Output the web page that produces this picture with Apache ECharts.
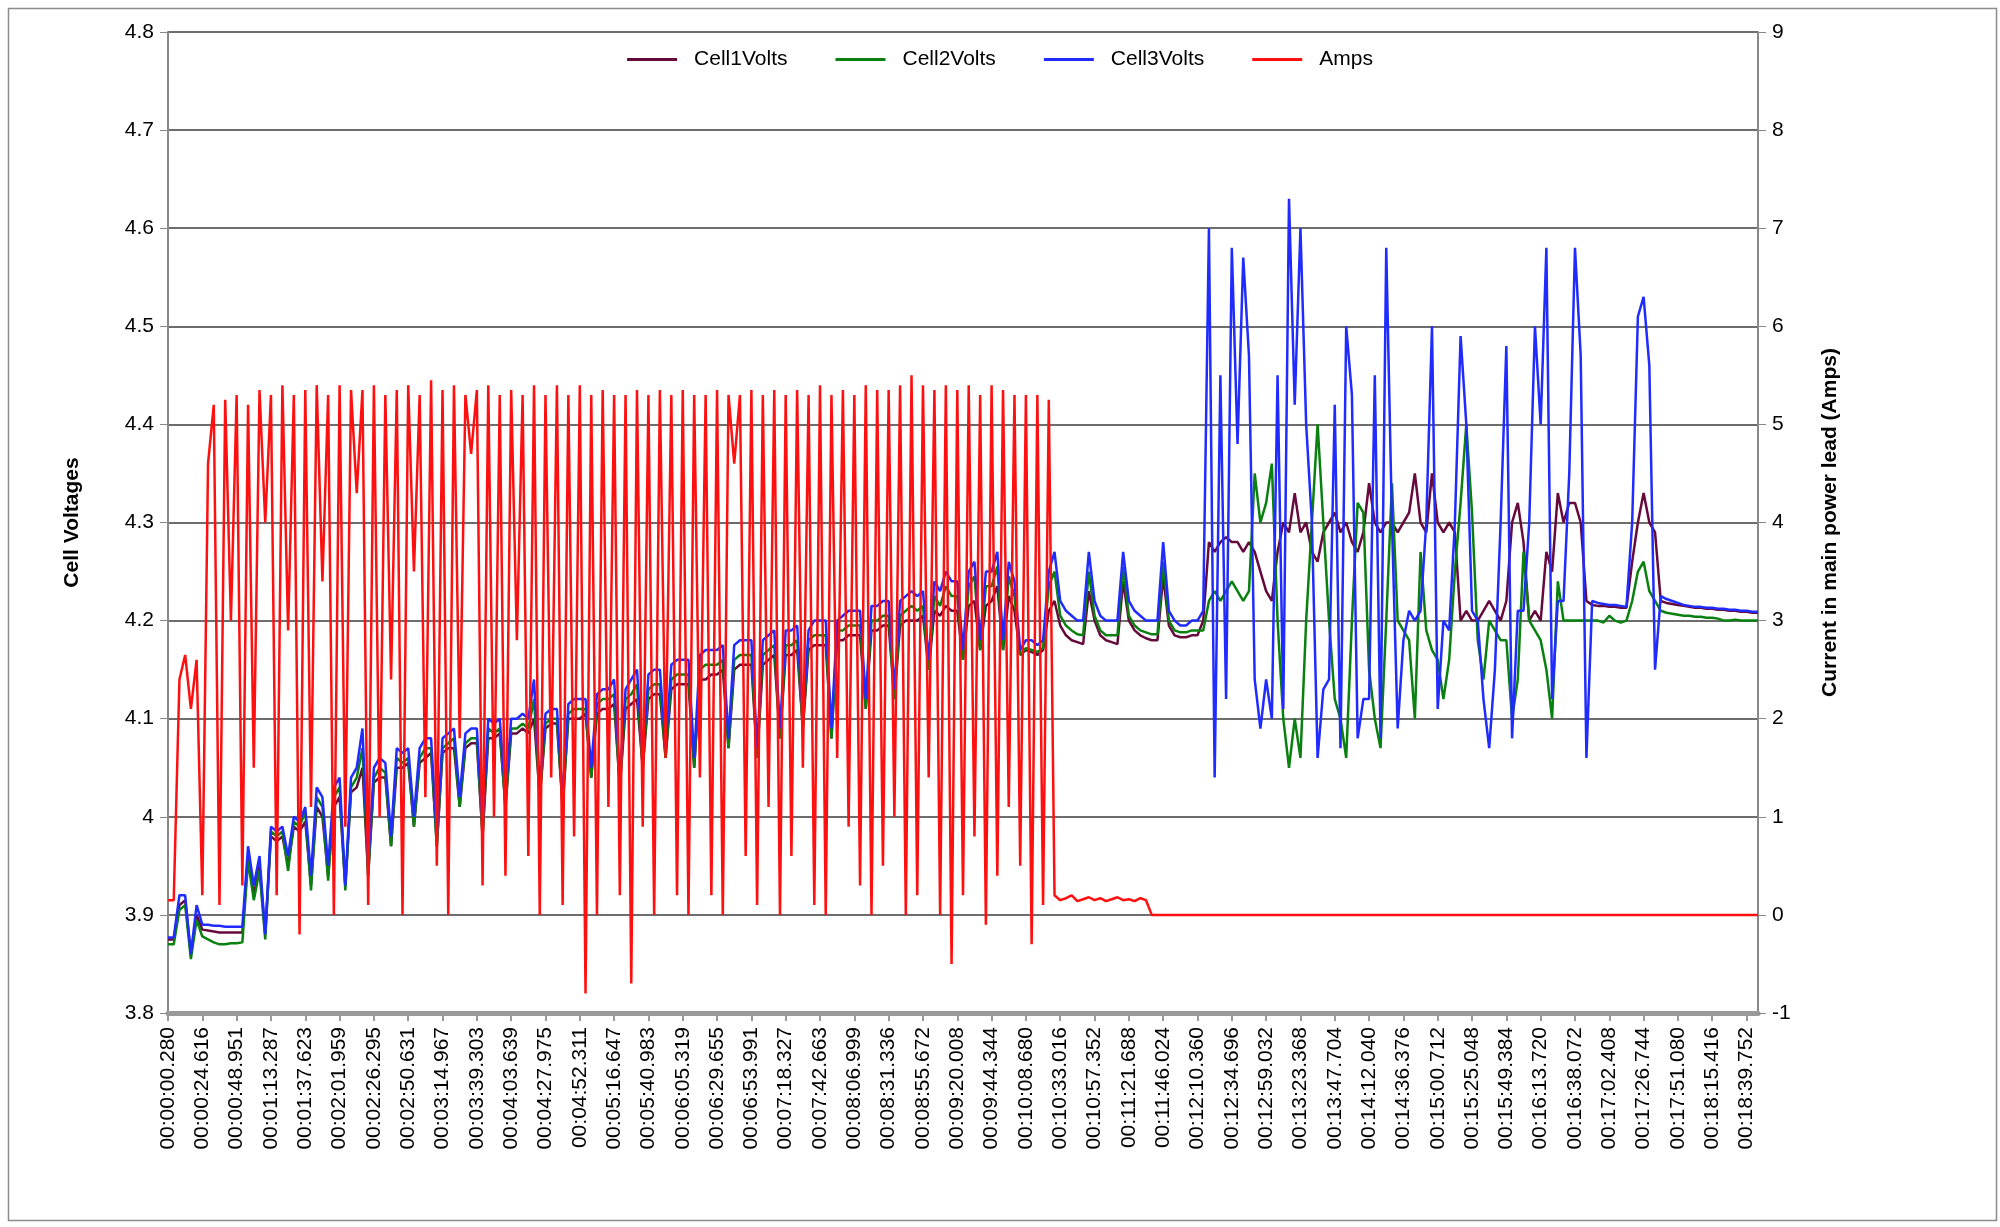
<!DOCTYPE html>
<html>
<head>
<meta charset="utf-8">
<script src="https://cdn.jsdelivr.net/npm/echarts@6/dist/echarts.min.js"></script>
<style>
  html, body { margin: 0; padding: 0; background: #fff; }
  #chart { width: 2000px; height: 1227px; }
</style>
</head>
<body>
<div id="chart"></div>
<script>
// tick labels, one every 6 samples
var tickLabels = ['00:00:00.280','00:00:24.616','00:00:48.951','00:01:13.287','00:01:37.623','00:02:01.959',
  '00:02:26.295','00:02:50.631','00:03:14.967','00:03:39.303','00:04:03.639','00:04:27.975','00:04:52.311',
  '00:05:16.647','00:05:40.983','00:06:05.319','00:06:29.655','00:06:53.991','00:07:18.327','00:07:42.663',
  '00:08:06.999','00:08:31.336','00:08:55.672','00:09:20.008','00:09:44.344','00:10:08.680','00:10:33.016',
  '00:10:57.352','00:11:21.688','00:11:46.024','00:12:10.360','00:12:34.696','00:12:59.032','00:13:23.368',
  '00:13:47.704','00:14:12.040','00:14:36.376','00:15:00.712','00:15:25.048','00:15:49.384','00:16:13.720',
  '00:16:38.072','00:17:02.408','00:17:26.744','00:17:51.080','00:18:15.416','00:18:39.752'];
var perTick = 6;

var cell1Volts = [
  3.875,3.875,3.91,3.915,3.86,3.9,
  3.885,3.884,3.883,3.882,3.882,3.882,
  3.882,3.882,3.96,3.92,3.95,3.88,
  3.98,3.975,3.98,3.95,3.99,3.985,
  3.995,3.93,4.01,4.0,3.94,4.01,
  4.02,3.93,4.025,4.03,4.05,3.94,
  4.035,4.04,4.04,3.97,4.05,4.05,
  4.055,3.99,4.055,4.06,4.065,3.97,
  4.065,4.07,4.07,4.01,4.07,4.075,
  4.075,3.98,4.08,4.08,4.085,4.01,
  4.085,4.085,4.09,4.085,4.1,4.02,
  4.09,4.095,4.095,4.01,4.1,4.1,
  4.1,4.105,4.04,4.105,4.11,4.11,
  4.115,4.03,4.11,4.115,4.12,4.05,
  4.12,4.125,4.125,4.06,4.13,4.135,
  4.135,4.135,4.05,4.14,4.14,4.145,
  4.145,4.15,4.07,4.15,4.155,4.155,
  4.155,4.06,4.155,4.16,4.165,4.08,
  4.165,4.165,4.17,4.09,4.17,4.175,
  4.175,4.175,4.08,4.18,4.18,4.185,
  4.185,4.185,4.11,4.19,4.19,4.195,
  4.195,4.12,4.195,4.2,4.2,4.2,
  4.205,4.15,4.21,4.205,4.215,4.21,
  4.21,4.16,4.215,4.22,4.17,4.215,
  4.22,4.235,4.17,4.225,4.21,4.165,
  4.17,4.168,4.165,4.17,4.21,4.22,
  4.195,4.185,4.18,4.178,4.176,4.23,
  4.2,4.185,4.18,4.178,4.176,4.24,
  4.2,4.19,4.185,4.182,4.18,4.18,
  4.245,4.195,4.185,4.183,4.183,4.185,
  4.185,4.2,4.28,4.27,4.28,4.285,
  4.28,4.28,4.27,4.28,4.27,4.25,
  4.23,4.22,4.27,4.3,4.29,4.33,
  4.29,4.3,4.27,4.26,4.29,4.3,
  4.31,4.29,4.3,4.28,4.27,4.29,
  4.34,4.3,4.29,4.3,4.3,4.29,
  4.3,4.31,4.35,4.3,4.29,4.35,
  4.3,4.29,4.3,4.29,4.2,4.21,
  4.2,4.2,4.21,4.22,4.21,4.2,
  4.22,4.3,4.32,4.28,4.2,4.21,
  4.2,4.27,4.25,4.33,4.3,4.32,
  4.32,4.3,4.22,4.216,4.215,4.215,
  4.214,4.214,4.213,4.213,4.26,4.3,
  4.33,4.3,4.29,4.22,4.218,4.217,
  4.216,4.215,4.214,4.213,4.213,4.212,
  4.212,4.211,4.211,4.21,4.21,4.209,
  4.209,4.208,4.208];

var cell2Volts = [
  3.87,3.87,3.905,3.91,3.855,3.895,
  3.878,3.875,3.872,3.87,3.87,3.871,
  3.871,3.872,3.955,3.915,3.945,3.875,
  3.985,3.98,3.985,3.945,3.995,3.99,
  4.005,3.925,4.02,4.01,3.935,4.02,
  4.03,3.925,4.03,4.04,4.07,3.94,
  4.04,4.05,4.045,3.97,4.06,4.055,
  4.06,3.99,4.06,4.07,4.07,3.97,
  4.07,4.075,4.08,4.01,4.075,4.08,
  4.08,3.98,4.09,4.085,4.09,4.01,
  4.09,4.09,4.095,4.09,4.12,4.02,
  4.095,4.1,4.1,4.01,4.105,4.11,
  4.11,4.11,4.04,4.115,4.12,4.12,
  4.125,4.03,4.12,4.125,4.135,4.05,
  4.13,4.135,4.135,4.06,4.14,4.145,
  4.145,4.145,4.05,4.15,4.155,4.155,
  4.155,4.16,4.07,4.16,4.165,4.165,
  4.165,4.06,4.165,4.17,4.175,4.08,
  4.175,4.175,4.18,4.09,4.18,4.185,
  4.185,4.185,4.08,4.19,4.19,4.195,
  4.195,4.195,4.11,4.2,4.2,4.205,
  4.205,4.12,4.205,4.21,4.215,4.21,
  4.215,4.15,4.225,4.215,4.235,4.225,
  4.225,4.16,4.235,4.245,4.17,4.235,
  4.235,4.255,4.17,4.245,4.225,4.165,
  4.172,4.17,4.168,4.172,4.235,4.25,
  4.205,4.195,4.19,4.186,4.185,4.25,
  4.205,4.19,4.185,4.185,4.185,4.255,
  4.205,4.195,4.19,4.188,4.186,4.186,
  4.26,4.2,4.19,4.188,4.188,4.19,
  4.19,4.19,4.22,4.23,4.22,4.23,
  4.24,4.23,4.22,4.23,4.35,4.3,
  4.32,4.36,4.2,4.1,4.05,4.1,
  4.06,4.2,4.3,4.4,4.3,4.2,
  4.12,4.1,4.06,4.2,4.32,4.31,
  4.15,4.1,4.07,4.2,4.34,4.2,
  4.19,4.18,4.1,4.27,4.19,4.17,
  4.16,4.12,4.16,4.25,4.32,4.4,
  4.31,4.18,4.14,4.2,4.19,4.18,
  4.18,4.1,4.14,4.27,4.2,4.19,
  4.18,4.15,4.1,4.24,4.2,4.2,
  4.2,4.2,4.2,4.2,4.2,4.198,
  4.205,4.2,4.198,4.2,4.22,4.25,
  4.26,4.23,4.22,4.21,4.208,4.207,
  4.206,4.205,4.205,4.204,4.204,4.203,
  4.203,4.202,4.2,4.2,4.201,4.2,
  4.2,4.2,4.2];

var cell3Volts = [
  3.877,3.877,3.92,3.92,3.86,3.91,
  3.89,3.89,3.889,3.889,3.888,3.888,
  3.888,3.888,3.97,3.93,3.96,3.88,
  3.99,3.985,3.99,3.96,4.0,3.995,
  4.01,3.94,4.03,4.02,3.95,4.03,
  4.04,3.93,4.04,4.05,4.09,3.95,
  4.05,4.06,4.055,3.98,4.07,4.065,
  4.07,4.0,4.07,4.08,4.08,3.98,
  4.08,4.085,4.09,4.02,4.085,4.09,
  4.09,3.99,4.1,4.095,4.1,4.02,
  4.1,4.1,4.105,4.1,4.14,4.03,
  4.105,4.11,4.11,4.02,4.115,4.12,
  4.12,4.12,4.05,4.125,4.13,4.13,
  4.14,4.04,4.13,4.14,4.15,4.06,
  4.145,4.15,4.15,4.07,4.155,4.16,
  4.16,4.16,4.06,4.165,4.17,4.17,
  4.17,4.175,4.08,4.175,4.18,4.18,
  4.18,4.07,4.18,4.185,4.19,4.09,
  4.19,4.19,4.195,4.1,4.19,4.2,
  4.2,4.2,4.09,4.2,4.205,4.21,
  4.21,4.21,4.12,4.215,4.215,4.22,
  4.22,4.13,4.22,4.225,4.23,4.225,
  4.23,4.16,4.24,4.23,4.25,4.24,
  4.24,4.17,4.25,4.26,4.18,4.25,
  4.25,4.27,4.18,4.26,4.24,4.17,
  4.18,4.18,4.175,4.18,4.25,4.27,
  4.22,4.21,4.205,4.2,4.2,4.27,
  4.22,4.205,4.2,4.2,4.2,4.27,
  4.22,4.21,4.205,4.2,4.2,4.2,
  4.28,4.21,4.2,4.195,4.195,4.2,
  4.2,4.21,4.6,4.04,4.45,4.12,
  4.58,4.38,4.57,4.47,4.14,4.09,
  4.14,4.1,4.45,4.11,4.63,4.42,
  4.6,4.4,4.3,4.06,4.13,4.14,
  4.42,4.07,4.5,4.43,4.08,4.12,
  4.12,4.45,4.08,4.58,4.3,4.09,
  4.18,4.21,4.2,4.21,4.3,4.5,
  4.11,4.2,4.19,4.3,4.49,4.4,
  4.21,4.2,4.12,4.07,4.15,4.3,
  4.48,4.08,4.21,4.21,4.3,4.5,
  4.4,4.58,4.12,4.22,4.22,4.35,
  4.58,4.47,4.06,4.22,4.218,4.217,
  4.216,4.216,4.215,4.214,4.3,4.51,
  4.53,4.46,4.15,4.225,4.222,4.22,
  4.218,4.216,4.215,4.214,4.214,4.213,
  4.213,4.212,4.212,4.211,4.211,4.21,
  4.21,4.209,4.209];

var amps = [
  0.15,0.15,2.4,2.65,2.1,2.6,
  0.2,4.6,5.2,0.1,5.25,3.0,
  5.3,0.3,5.2,1.5,5.35,4.0,
  5.3,0.2,5.4,2.9,5.3,-0.2,
  5.35,1.1,5.4,3.4,5.3,0.0,
  5.4,0.9,5.35,4.3,5.35,0.1,
  5.4,1.0,5.3,2.4,5.35,0.0,
  5.4,3.5,5.3,1.2,5.45,0.5,
  5.35,0.0,5.4,1.8,5.3,4.7,
  5.35,0.3,5.4,1.0,5.3,0.4,
  5.35,2.8,5.3,0.6,5.4,0.0,
  5.3,1.4,5.4,0.1,5.3,0.8,
  5.4,-0.8,5.3,0.0,5.35,1.1,
  5.3,0.2,5.3,-0.7,5.35,0.9,
  5.3,0.0,5.35,1.6,5.3,0.2,
  5.35,0.0,5.3,1.4,5.3,0.2,
  5.35,0.0,5.3,4.6,5.3,0.6,
  5.35,0.1,5.3,1.1,5.35,0.0,
  5.3,0.6,5.35,1.5,5.3,0.1,
  5.4,0.0,5.3,1.6,5.35,0.9,
  5.3,0.3,5.4,0.0,5.35,0.5,
  5.35,1.0,5.4,0.0,5.5,0.2,
  5.4,1.4,5.35,0.0,5.4,-0.5,
  5.35,0.2,5.4,0.8,5.3,-0.1,
  5.4,0.4,5.35,1.1,5.3,0.5,
  5.3,-0.3,5.3,0.1,5.25,0.2,
  0.15,0.17,0.2,0.14,0.16,0.18,
  0.15,0.17,0.14,0.16,0.18,0.15,
  0.16,0.14,0.17,0.15,0.0,0.0,
  0,0,0,0,0,0, 0,0,0,0,0,0, 0,0,0,0,0,0,
  0,0,0,0,0,0, 0,0,0,0,0,0, 0,0,0,0,0,0,
  0,0,0,0,0,0, 0,0,0,0,0,0, 0,0,0,0,0,0,
  0,0,0,0,0,0, 0,0,0,0,0,0, 0,0,0,0,0,0,
  0,0,0,0,0,0, 0,0,0,0,0,0, 0,0,0,0,0,0,
  0,0,0,0,0,0, 0,0,0,0,0,0,
  0,0,0];

// one category per sample; only every 6th carries a tick label
var categories = [];
tickLabels.forEach(function (t) {
  for (var j = 0; j < perTick; j++) categories.push(j === 0 ? t : t + '#' + j);
});
categories = categories.slice(0, amps.length);

var myChart = echarts.init(document.getElementById('chart'));
var font = 'Liberation Sans, Arial, sans-serif';

function line(name, data, color, yIdx) {
  return {
    name: name, type: 'line', data: data, yAxisIndex: yIdx,
    showSymbol: false, symbol: 'none', animation: false,
    lineStyle: { color: color, width: 2.5 }, itemStyle: { color: color }
  };
}

var option = {
  backgroundColor: '#fff',
  textStyle: { fontFamily: font },
  graphic: [{
    type: 'rect', left: 6, top: 6, z: -1,
    shape: { width: 1988, height: 1212 },
    style: { fill: 'none', stroke: '#8c8c8c', lineWidth: 1.5 }
  }],
  legend: {
    top: 44, left: 'center', itemWidth: 50, itemHeight: 3, itemGap: 48,
    icon: 'rect',
    textStyle: { fontSize: 21, color: '#000', fontFamily: font, padding: [0, 0, 0, 12] },
    data: ['Cell1Volts', 'Cell2Volts', 'Cell3Volts', 'Amps']
  },
  grid: { left: 168, right: 242, top: 32, bottom: 214 },
  xAxis: {
    type: 'category', data: categories, boundaryGap: false,
    axisLine: { onZero: false, lineStyle: { color: '#999', width: 5 } },
    axisTick: { interval: perTick - 1, length: 8, lineStyle: { color: '#999', width: 2 } },
    axisLabel: { interval: perTick - 1, rotate: 90, fontSize: 21, color: '#000', margin: 14 },
    splitLine: { show: false }
  },
  yAxis: [{
    type: 'value', min: 3.8, max: 4.8, interval: 0.1,
    name: 'Cell Voltages', nameLocation: 'middle', nameGap: 85, nameRotate: 90,
    nameTextStyle: { fontSize: 21, fontWeight: 'bold', color: '#000' },
    axisLine: { show: true, lineStyle: { color: '#888', width: 2 } },
    axisTick: { show: true, length: 8, lineStyle: { color: '#888' } },
    axisLabel: { fontSize: 21, color: '#000', margin: 14, formatter: function (v) { return String(+v.toFixed(1)); } },
    splitLine: { lineStyle: { color: '#3c3c3c', width: 1.5 } }
  }, {
    type: 'value', min: -1, max: 9, interval: 1, position: 'right',
    name: 'Current in main power lead (Amps)', nameLocation: 'middle', nameGap: 62, nameRotate: 90,
    nameTextStyle: { fontSize: 21, fontWeight: 'bold', color: '#000' },
    axisLine: { show: true, lineStyle: { color: '#888', width: 2 } },
    axisTick: { show: true, length: 8, lineStyle: { color: '#888' } },
    axisLabel: { fontSize: 21, color: '#000', margin: 14 },
    splitLine: { show: false }
  }],
  series: [
    line('Cell1Volts', cell1Volts, '#660a3c', 0),
    line('Cell2Volts', cell2Volts, '#0a8010', 0),
    line('Cell3Volts', cell3Volts, '#1f2bff', 0),
    line('Amps', amps, '#ff1010', 1)
  ]
};
myChart.setOption(option);
</script>
</body>
</html>
